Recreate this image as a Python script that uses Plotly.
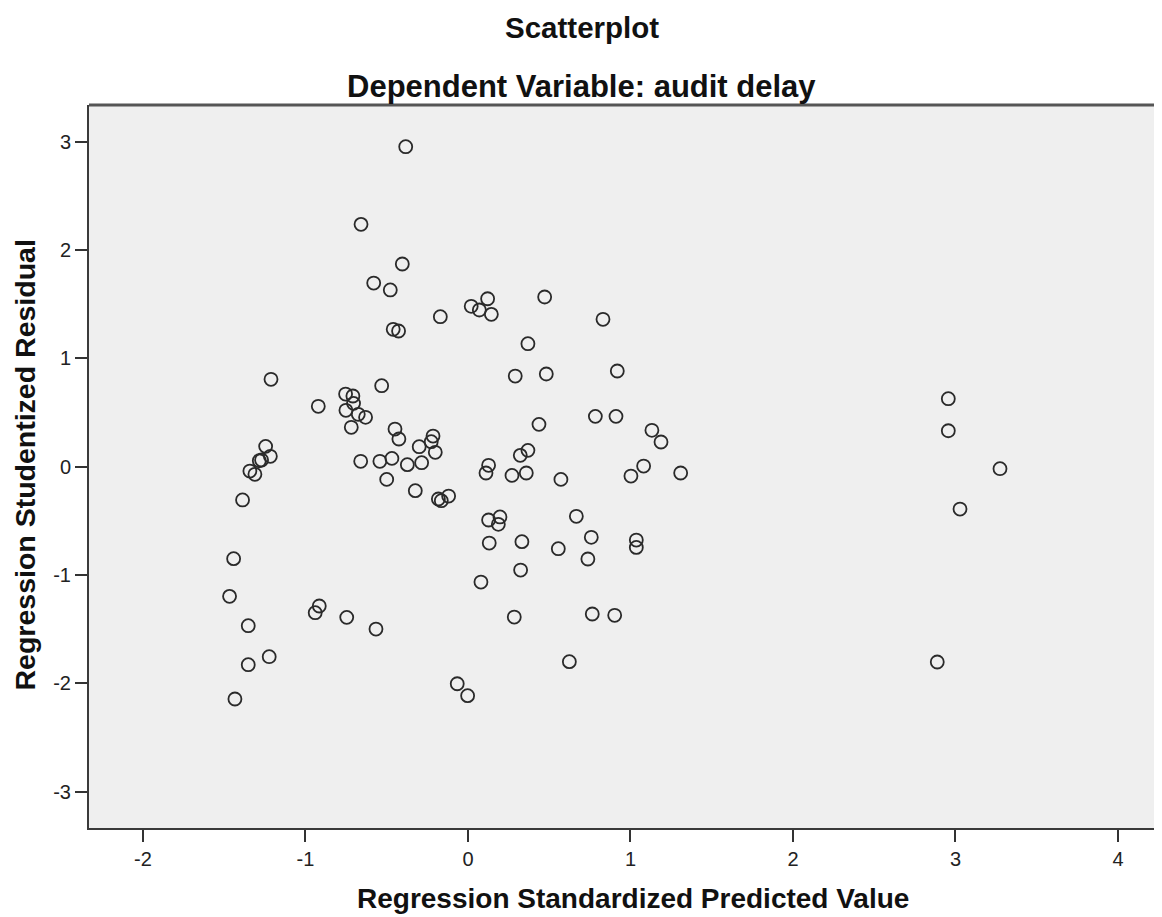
import plotly.graph_objects as go

# Regression Standardized Predicted Value
pred_value = [
    -0.383, -0.658, -0.404, -0.580, -0.478, -0.170, -0.460, -0.427,
    -1.212, -0.921, -0.531, -0.753, -0.708, -0.704, -0.751, -0.675, -0.630, -0.718,
    -0.449, -0.425, -0.215, -0.226, -0.300, -0.201, -1.245, -1.216, -1.270, -1.284,
    -1.342, -1.311, -1.387, -0.660, -0.542, -0.468, -0.373, -0.285, -0.500, -0.324,
    -0.182, -0.164, -0.119,
    -1.442, -1.467, -1.352, -0.915, -0.940, -0.746, -0.566, -1.223, -1.352, -1.434,
    0.020, 0.070, 0.121, 0.144, 0.472, 0.831, 0.369, 0.291, 0.482, 0.919, 0.784,
    0.911, 0.437, 1.132, 1.188, 0.369, 0.322,
    0.127, 0.111, 0.271, 0.359, 0.572, 1.003, 1.081, 1.309, 0.127, 0.197, 0.187,
    0.667, 0.131, 0.332, 0.556, 0.759, 0.738, 1.036, 1.036, 0.324, 0.080, 0.285,
    0.765, 0.903, 0.624, -0.066, -0.002,
    2.956, 2.956, 3.274, 3.028, 2.888,
]

# Regression Studentized Residual
stud_resid = [
    2.955, 2.238, 1.872, 1.696, 1.632, 1.385, 1.269, 1.253,
    0.807, 0.558, 0.748, 0.671, 0.653, 0.585, 0.521, 0.484, 0.456, 0.364,
    0.348, 0.256, 0.283, 0.231, 0.185, 0.133, 0.188, 0.096, 0.062, 0.055,
    -0.040, -0.070, -0.307, 0.050, 0.050, 0.077, 0.019, 0.037, -0.117, -0.221,
    -0.298, -0.314, -0.271,
    -0.849, -1.197, -1.468, -1.286, -1.348, -1.391, -1.499, -1.754, -1.828, -2.145,
    1.481, 1.447, 1.551, 1.407, 1.567, 1.361, 1.136, 0.837, 0.856, 0.884, 0.465,
    0.465, 0.391, 0.336, 0.228, 0.151, 0.105,
    0.013, -0.058, -0.080, -0.058, -0.117, -0.086, 0.006, -0.058, -0.492, -0.464, -0.532,
    -0.458, -0.705, -0.692, -0.757, -0.652, -0.852, -0.677, -0.745, -0.954, -1.065, -1.388,
    -1.360, -1.372, -1.800, -2.004, -2.114,
    0.628, 0.332, -0.018, -0.391, -1.803,
]

x_ticks = [-2, -1, 0, 1, 2, 3, 4]
y_ticks = [-3, -2, -1, 0, 1, 2, 3]

title_text = "Scatterplot"
subtitle_text = "Dependent Variable: audit delay"
x_title = "Regression Standardized Predicted Value"
y_title = "Regression Studentized Residual"

# page has an 8px body margin; lay the figure out in page pixels minus that offset
OFF = 8
W, H = 1162 - OFF, 917 - OFF
PLOT_L, PLOT_R, PLOT_T, PLOT_B = 89, 1162, 105, 828   # page pixels
ML = PLOT_L - OFF
MR = 0
MT = PLOT_T - OFF
MB = H - (PLOT_B - OFF)
PW, PH = W - ML - MR, H - MT - MB


def px_x(p):
    return (p - OFF - ML) / PW


def px_y(p):
    return (H - MB - (p - OFF)) / PH


fig = go.Figure()
fig.add_trace(go.Scatter(
    x=pred_value, y=stud_resid, mode="markers",
    marker=dict(symbol="circle-open", size=13, color="#2a2a2a",
                line=dict(width=1.8, color="#2a2a2a")),
    hoverinfo="x+y", showlegend=False,
))

font_family = "Liberation Sans, Arial, sans-serif"

fig.update_layout(
    width=W, height=H,
    margin=dict(l=ML, r=MR, t=MT, b=MB, pad=0),
    paper_bgcolor="white",
    plot_bgcolor="#efefef",
    font=dict(family=font_family, color="#222"),
    xaxis=dict(
        range=[-2.332, 4.271], tickvals=x_ticks, ticktext=[str(v) for v in x_ticks],
        showgrid=False, zeroline=False, showline=True, linecolor="#3a3a3a", linewidth=2,
        ticks="outside", ticklen=12, tickwidth=2, tickcolor="#333",
        tickfont=dict(size=20, color="#222", family=font_family),
    ),
    yaxis=dict(
        range=[-3.336, 3.340], tickvals=y_ticks, ticktext=[str(v) for v in y_ticks],
        showgrid=False, zeroline=False, showline=True, linecolor="#3a3a3a", linewidth=2,
        ticks="outside", ticklen=12, tickwidth=2, tickcolor="#333",
        tickfont=dict(size=20, color="#222", family=font_family),
    ),
    shapes=[dict(type="line", xref="paper", yref="paper", x0=0, x1=1, y0=1, y1=1,
                 line=dict(color="#555", width=3))],
    annotations=[
        dict(text="<b>" + title_text + "</b>", xref="paper", yref="paper",
             x=px_x(582), y=px_y(28),
             xanchor="center", yanchor="middle", showarrow=False,
             font=dict(size=29.5, color="#111", family=font_family)),
        dict(text="<b>" + subtitle_text + "</b>", xref="paper", yref="paper",
             x=px_x(581), y=px_y(86),
             xanchor="center", yanchor="middle", showarrow=False,
             font=dict(size=31, color="#111", family=font_family)),
        dict(text="<b>" + x_title + "</b>", xref="paper", yref="paper",
             x=px_x(633), y=px_y(898),
             xanchor="center", yanchor="middle", showarrow=False,
             font=dict(size=28, color="#111", family=font_family)),
        dict(text="<b>" + y_title + "</b>", xref="paper", yref="paper",
             x=px_x(24), y=px_y(465.5),
             xanchor="center", yanchor="middle", showarrow=False, textangle=-90,
             font=dict(size=28.5, color="#111", family=font_family)),
    ],
)

fig.write_html("out.html")
